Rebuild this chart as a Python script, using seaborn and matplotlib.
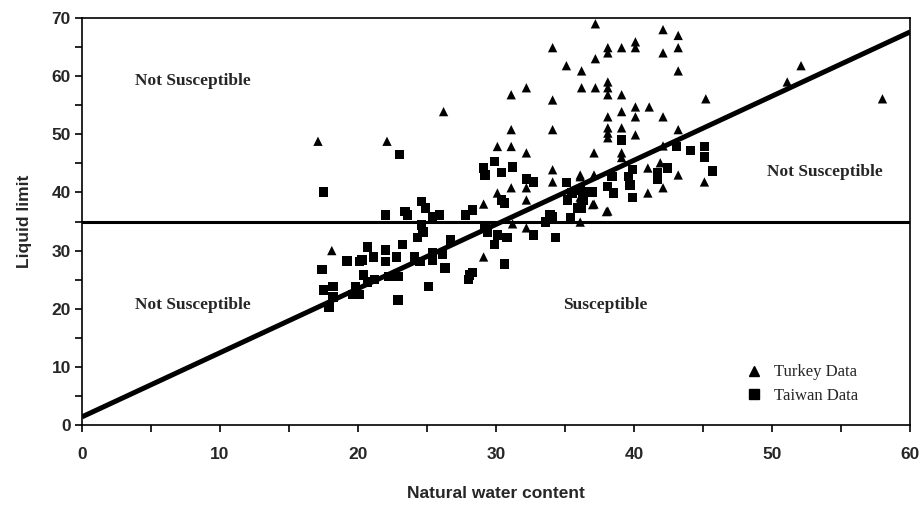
import matplotlib
matplotlib.use("Agg")
import matplotlib.pyplot as plt
import seaborn as sns
import pandas as pd
from matplotlib.ticker import MultipleLocator
from matplotlib.lines import Line2D

# Turkey samples: natural water content (%) and liquid limit (%)
turkey_w = [17.1, 22.1, 26.2, 31.1, 32.2, 34.1, 34.1, 34.1, 31.1, 30.1, 31.1, 32.2,
            35.1, 36.2, 36.2, 37.2, 37.2, 37.2, 37.1, 34.1, 34.1, 36.1, 37.1, 31.1,
            32.2, 30.1, 32.2, 29.1, 36.1, 37.1, 32.2, 36.1, 18.1, 29.1,
            42.1, 43.2, 43.2, 42.1, 38.1, 38.1, 39.1, 40.1, 40.1, 43.2, 38.1, 38.1,
            38.1, 39.1, 45.2, 58.0, 52.1, 51.1, 40.1, 41.1, 39.1, 38.1, 40.1, 42.1,
            38.1, 38.1, 38.1, 39.1, 40.1, 43.2, 39.1, 39.1, 42.1, 36.1, 41.0, 41.9,
            43.2, 45.1, 41.0, 42.1, 38.1, 37.0, 38.0, 36.1, 31.2]
turkey_ll = [48.8, 48.8, 53.9, 56.8, 58.0, 64.9, 55.9, 50.8, 50.8, 47.9, 47.9, 46.8,
             61.8, 60.9, 58.0, 58.0, 69.0, 63.0, 46.8, 43.9, 41.8, 43.0, 43.0, 40.8,
             40.8, 39.9, 38.7, 38.0, 38.7, 38.0, 33.9, 34.9, 30.0, 28.9,
             68.0, 67.0, 64.9, 64.0, 64.9, 64.0, 64.9, 65.9, 64.9, 60.9, 59.0, 58.0,
             56.8, 56.8, 56.1, 56.1, 61.8, 59.0, 54.7, 54.7, 53.9, 53.0, 53.0, 53.0,
             51.1, 50.2, 49.4, 51.1, 49.9, 50.8, 46.8, 46.0, 48.0, 42.7, 44.2, 45.1,
             43.0, 41.8, 39.9, 40.8, 36.8, 37.9, 36.7, 39.2, 34.6]

# Taiwan samples
taiwan_w = [17.5, 23.0, 17.4, 17.5, 18.2, 18.2, 17.9, 19.2, 20.1, 20.7, 21.1, 20.4,
            20.7, 21.2, 19.8, 20.1, 22.0, 22.0, 22.8, 23.2, 22.2, 22.9, 22.9, 24.1,
            24.5, 25.4, 26.1, 25.1, 26.3, 26.7, 28.1, 28.0, 22.0, 23.4, 23.6, 24.6,
            24.9, 25.4, 25.9, 24.6, 24.7, 24.3, 27.8, 28.3, 29.1, 29.2, 29.9, 30.4,
            31.2, 32.2, 32.7, 30.4, 30.6, 29.2, 29.4, 30.1, 29.9, 30.8, 30.6, 32.7,
            34.3, 33.6, 34.1, 35.4, 33.9, 35.1, 35.5, 35.2, 36.1, 36.8, 36.3, 35.9,
            36.2, 37.0, 38.4, 38.1, 38.5, 39.6, 39.7, 39.9, 39.9, 39.1, 41.7, 41.7,
            42.4, 43.1, 44.1, 45.1, 45.1, 45.7, 25.4, 28.3, 20.3, 19.6]
taiwan_ll = [40.1, 46.5, 26.7, 23.2, 23.8, 22.0, 20.3, 28.2, 28.1, 30.6, 28.9, 25.8,
             24.6, 25.0, 23.8, 22.4, 30.1, 28.1, 28.9, 31.0, 25.5, 25.6, 21.5, 28.9,
             28.1, 28.4, 29.3, 23.8, 27.0, 31.8, 25.8, 25.0, 36.1, 36.7, 36.1, 38.4,
             37.3, 35.8, 36.1, 34.4, 33.2, 32.2, 36.1, 37.0, 44.2, 43.0, 45.3, 43.4,
             44.4, 42.3, 41.8, 38.7, 38.2, 34.1, 33.2, 32.7, 31.0, 32.2, 27.7, 32.7,
             32.2, 34.9, 35.8, 35.6, 36.1, 41.7, 39.9, 38.7, 40.4, 40.1, 38.7, 37.3,
             37.3, 40.1, 42.7, 41.0, 39.9, 42.7, 41.3, 43.9, 39.1, 49.0, 43.4, 42.2,
             44.2, 47.9, 47.2, 47.9, 46.1, 43.7, 29.6, 26.2, 28.4, 22.4]

# Boundary criteria
ll_threshold = 35
boundary_w = [0, 60]
boundary_ll = [1.4, 67.6]

region_labels = ["Not Susceptible", "Not Susceptible", "Susceptible", "Not Susceptible"]
region_w = [8.0, 8.0, 37.9, 53.8]
region_ll = [59.2, 20.7, 20.7, 43.5]

df = pd.concat([
    pd.DataFrame({"w": turkey_w, "ll": turkey_ll, "set": "Turkey Data"}),
    pd.DataFrame({"w": taiwan_w, "ll": taiwan_ll, "set": "Taiwan Data"}),
], ignore_index=True)

sns.set_style("ticks")
plt.rcParams["font.family"] = ["Liberation Sans", "DejaVu Sans"]
serif = ["Liberation Serif", "DejaVu Serif"]

fig = plt.figure(figsize=(9.23, 5.07), dpi=100)
ax = fig.add_axes([0.0888, 0.1617, 0.8972, 0.8028])

ax.axhline(ll_threshold, color="black", lw=2.2, zorder=1)
ax.plot(boundary_w, boundary_ll, color="black", lw=3.6, zorder=1,
        solid_capstyle="butt")

sns.scatterplot(data=df, x="w", y="ll", style="set",
                markers={"Turkey Data": "^", "Taiwan Data": "s"},
                s=45, color="black", edgecolor="none",
                linewidth=0, ax=ax, zorder=3, legend=False)

ax.set_xlim(0, 60)
ax.set_ylim(0, 70)
ax.xaxis.set_major_locator(MultipleLocator(10))
ax.xaxis.set_minor_locator(MultipleLocator(5))
ax.yaxis.set_major_locator(MultipleLocator(10))
ax.yaxis.set_minor_locator(MultipleLocator(5))
ax.tick_params(axis="both", which="both", direction="out", length=5,
               width=1.2, color="black")
ax.tick_params(axis="x", which="major", pad=11)
ax.tick_params(axis="y", which="major", pad=3)
for lab in ax.get_xticklabels() + ax.get_yticklabels():
    lab.set_fontweight("bold")
    lab.set_fontsize(12.5)

for sp in ax.spines.values():
    sp.set_linewidth(1.2)
    sp.set_color("black")

ax.set_xlabel("Natural water content", fontsize=12.5, fontweight="bold", labelpad=17)
ax.set_ylabel("Liquid limit", fontsize=12.5, fontweight="bold", labelpad=14)

for txt, xw, yl in zip(region_labels, region_w, region_ll):
    ax.text(xw, yl, txt, ha="center", va="center", fontsize=12.5,
            fontweight="bold", family=serif)

# Legend
handles = [Line2D([], [], marker="^", ls="none", color="black", markersize=7.5),
           Line2D([], [], marker="s", ls="none", color="black", markersize=6.5)]
ax.legend(handles, ["Turkey Data", "Taiwan Data"], loc="lower right",
          bbox_to_anchor=(0.955, 0.015), frameon=False, handletextpad=0.7,
          labelspacing=0.45, prop={"family": serif, "size": 12},
          handlelength=1.0)

fig.savefig("out.png", dpi=100)
